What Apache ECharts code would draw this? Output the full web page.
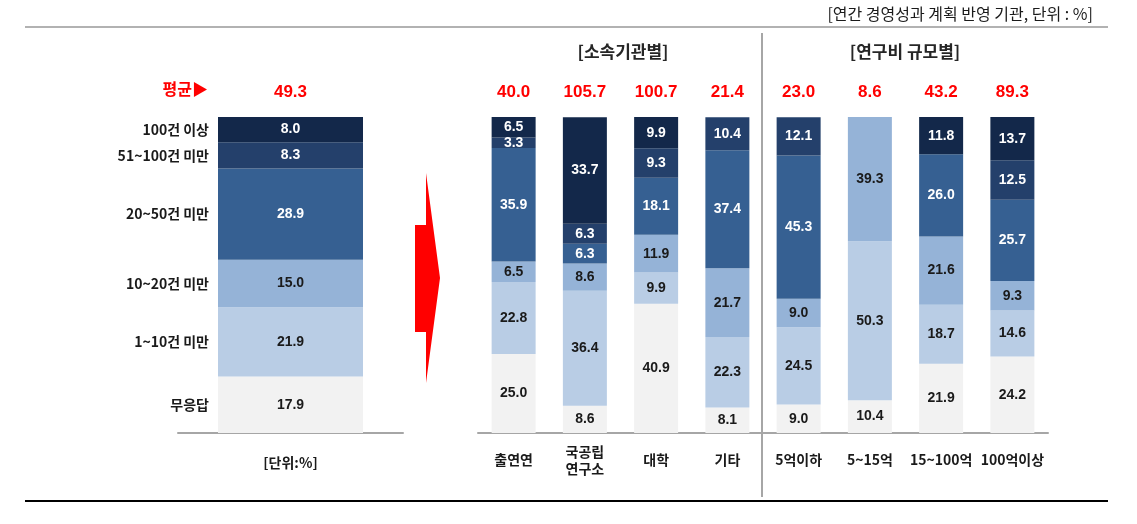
<!DOCTYPE html>
<html>
<head>
<meta charset="utf-8">
<script src="https://cdn.jsdelivr.net/npm/echarts@6/dist/echarts.min.js"></script>
<style>
  html, body { margin: 0; padding: 0; background: #fff; }
  #chart { width: 1137px; height: 524px; }
</style>
</head>
<body>
<div id="chart"></div>
<script>
// 구간 (아래에서 위로 쌓는 순서)
const bands = ['무응답', '1~10건 미만', '10~20건 미만', '20~50건 미만', '51~100건 미만', '100건 이상'];
const bandColors = ['#F2F2F2', '#B9CDE5', '#95B3D7', '#366092', '#24406B', '#13284A'];
const bandText = ['#1a1a1a', '#1a1a1a', '#1a1a1a', '#ffffff', '#ffffff', '#ffffff'];

// 평균
const avgCategory = ['[단위:%]'];
const avgTotal = ['49.3'];
const avgValues = [17.9, 21.9, 15.0, 28.9, 8.3, 8.0];

// 소속기관별 / 연구비 규모별
const groups = ['출연연', '국공립\n연구소', '대학', '기타', '5억이하', '5~15억', '15~100억', '100억이상'];
const totals = ['40.0', '105.7', '100.7', '21.4', '23.0', '8.6', '43.2', '89.3'];
const noAnswer = [25.0, 8.6, 40.9, 8.1, 9.0, 10.4, 21.9, 24.2];
const c1to10 = [22.8, 36.4, 9.9, 22.3, 24.5, 50.3, 18.7, 14.6];
const c10to20 = [6.5, 8.6, 11.9, 21.7, 9.0, 39.3, 21.6, 9.3];
const c20to50 = [35.9, 6.3, 18.1, 37.4, 45.3, null, 26.0, 25.7];
const c51to100 = [3.3, 6.3, 9.3, 10.4, 12.1, null, null, 12.5];
const c100plus = [6.5, 33.7, 9.9, null, null, null, 11.8, 13.7];
const groupData = [noAnswer, c1to10, c10to20, c20to50, c51to100, c100plus];

const KR = '"Noto Sans CJK KR", sans-serif';
const NUM = '"Liberation Sans", Arial, sans-serif';

let chart = echarts.init(document.getElementById('chart'));

let series = [];
bands.forEach((name, i) => {
  // 평균 막대
  series.push({
    type: 'bar', name: name, stack: 'avg',
    xAxisIndex: 0, yAxisIndex: 0,
    barWidth: 145, barGap: '-100%',
    data: [avgValues[i]],
    itemStyle: { color: bandColors[i] },
    label: {
      show: true, position: 'inside', formatter: (p) => p.value.toFixed(1),
      color: bandText[i], fontFamily: NUM, fontWeight: 'bold', fontSize: 14
    }
  });
});
bands.forEach((name, i) => {
  // 구간 이름 (막대 왼쪽)
  series.push({
    type: 'bar', name: name, stack: 'avgName',
    xAxisIndex: 0, yAxisIndex: 0,
    barWidth: 145, barGap: '-100%',
    data: [avgValues[i]],
    itemStyle: { color: 'rgba(0,0,0,0)' },
    silent: true,
    label: {
      show: true, position: 'left', distance: 9, formatter: name,
      color: '#1a1a1a', fontFamily: KR, fontWeight: 'bold', fontSize: 14
    }
  });
});
bands.forEach((name, i) => {
  series.push({
    type: 'bar', name: name, stack: 'grp',
    xAxisIndex: 1, yAxisIndex: 1,
    barWidth: 44,
    data: groupData[i],
    itemStyle: { color: bandColors[i] },
    label: {
      show: true, position: 'inside',
      formatter: (p) => (p.value == null ? '' : p.value.toFixed(1)),
      color: bandText[i], fontFamily: NUM, fontWeight: 'bold', fontSize: 14
    }
  });
});

const bottomAxis = (grid, data, offset, margin) => ({
  type: 'category', gridIndex: grid, position: 'bottom', data: data, offset: offset,
  axisLine: { show: true, lineStyle: { color: '#A6A6A6', width: 2 } },
  axisTick: { show: false },
  axisLabel: {
    margin: margin, verticalAlign: 'middle', interval: 0, lineHeight: 17,
    color: '#1a1a1a', fontFamily: KR, fontWeight: 'bold', fontSize: 14
  }
});
const topAxis = (grid, data) => ({
  type: 'category', gridIndex: grid, position: 'top', data: data,
  axisLine: { show: false }, axisTick: { show: false },
  axisLabel: {
    margin: 16, interval: 0,
    color: '#FF0000', fontFamily: NUM, fontWeight: 'bold', fontSize: 17
  }
});

chart.setOption({
  animation: false,
  grid: [
    { left: 178, width: 225, top: 117, height: 316 },
    { left: 478, width: 570, top: 117, height: 316 }
  ],
  xAxis: [
    bottomAxis(0, avgCategory, 5, 25),
    bottomAxis(1, groups, 4, 23),
    topAxis(0, avgTotal),
    topAxis(1, totals)
  ],
  yAxis: [
    { type: 'value', gridIndex: 0, min: 0, max: 100, show: false },
    { type: 'value', gridIndex: 1, min: 0, max: 100, show: false }
  ],
  series: series,
  graphic: [
    {
      type: 'text', x: 1093, y: 14,
      style: {
        text: '[연간 경영성과 계획 반영 기관, 단위 : %]', textAlign: 'right', textVerticalAlign: 'middle',
        fill: '#1a1a1a', font: '16px "Noto Sans CJK KR"'
      }
    },
    { type: 'line', shape: { x1: 25, y1: 27, x2: 1108, y2: 27 }, style: { stroke: '#999999', lineWidth: 1.5 } },
    { type: 'line', shape: { x1: 25, y1: 501, x2: 1108, y2: 501 }, style: { stroke: '#000000', lineWidth: 2 } },
    { type: 'line', shape: { x1: 762, y1: 33, x2: 762, y2: 497 }, style: { stroke: '#A6A6A6', lineWidth: 2 } },
    {
      type: 'text', x: 623, y: 52,
      style: {
        text: '[소속기관별]', textAlign: 'center', textVerticalAlign: 'middle',
        fill: '#262626', font: 'bold 17px "Noto Sans CJK KR"'
      }
    },
    {
      type: 'text', x: 905, y: 52,
      style: {
        text: '[연구비 규모별]', textAlign: 'center', textVerticalAlign: 'middle',
        fill: '#262626', font: 'bold 17px "Noto Sans CJK KR"'
      }
    },
    {
      type: 'text', x: 208, y: 89,
      style: {
        text: '평균▶', textAlign: 'right', textVerticalAlign: 'middle',
        fill: '#FF0000', font: 'bold 16px "Noto Sans CJK KR"'
      }
    },
    {
      type: 'polygon',
      shape: { points: [[415, 225], [426, 225], [426, 173], [440, 278], [426, 383], [426, 332], [415, 332]] },
      style: { fill: '#FF0000' }
    }
  ]
});
</script>
</body>
</html>
